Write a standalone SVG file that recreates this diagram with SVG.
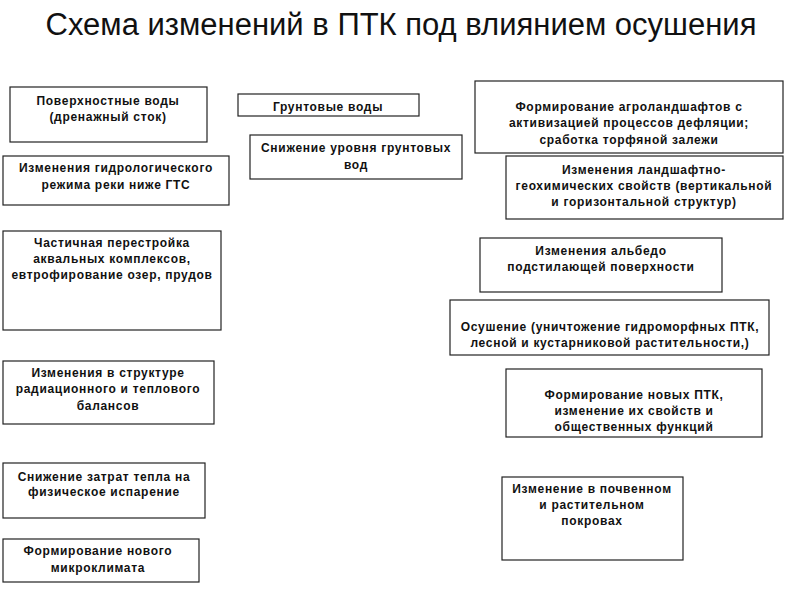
<svg xmlns="http://www.w3.org/2000/svg" width="800" height="600" viewBox="0 0 800 600">
<style>
.box{fill:#fff;stroke:#222;stroke-width:1.2}
.t{font-family:"Liberation Sans",Arial,sans-serif;font-size:12px;font-weight:bold;fill:#111;text-anchor:middle;letter-spacing:0.7px}
.title{font-family:"Liberation Sans",Arial,sans-serif;font-size:31px;fill:#111;text-anchor:middle}
</style>
<rect width="800" height="600" fill="#fff"/>
<text class="title" x="401" y="35">Схема изменений в ПТК под влиянием осушения</text>
<g id="connectors"/>
<g id="n1"><rect class="box" x="10" y="87" width="197" height="55"/><text class="t" x="108" y="105">Поверхностные воды</text><text class="t" x="108" y="121">(дренажный сток)</text></g>
<g id="n2"><rect class="box" x="3" y="156" width="226" height="49"/><text class="t" x="116" y="172">Изменения гидрологического</text><text class="t" x="116" y="189">режима реки ниже ГТС</text></g>
<g id="n3"><rect class="box" x="3" y="231" width="218" height="99"/><text class="t" x="112" y="247">Частичная перестройка</text><text class="t" x="112" y="263">аквальных комплексов,</text><text class="t" x="112" y="279">евтрофирование озер, прудов</text></g>
<g id="n4"><rect class="box" x="3" y="361" width="211" height="63"/><text class="t" x="108" y="377">Изменения в структуре</text><text class="t" x="108" y="393">радиационного и теплового</text><text class="t" x="108" y="410">балансов</text></g>
<g id="n5"><rect class="box" x="3" y="463" width="202" height="55"/><text class="t" x="104" y="481">Снижение затрат тепла на</text><text class="t" x="104" y="496">физическое испарение</text></g>
<g id="n6"><rect class="box" x="3" y="539" width="196" height="43"/><text class="t" x="98" y="555">Формирование нового</text><text class="t" x="98" y="572">микроклимата</text></g>
<g id="n7"><rect class="box" x="238" y="94" width="181" height="22"/><text class="t" x="328" y="111">Грунтовые воды</text></g>
<g id="n8"><rect class="box" x="250" y="135" width="212" height="44"/><text class="t" x="356" y="152">Снижение уровня грунтовых</text><text class="t" x="356" y="169">вод</text></g>
<g id="n9"><rect class="box" x="475" y="81" width="308" height="72"/><text class="t" x="629" y="111">Формирование агроландшафтов с</text><text class="t" x="629" y="127">активизацией процессов дефляции;</text><text class="t" x="629" y="144">сработка торфяной залежи</text></g>
<g id="n10"><rect class="box" x="506" y="156" width="277" height="63"/><text class="t" x="644" y="174">Изменения ландшафтно-</text><text class="t" x="644" y="190">геохимических свойств (вертикальной</text><text class="t" x="644" y="206">и горизонтальной структур)</text></g>
<g id="n11"><rect class="box" x="480" y="238" width="242" height="54"/><text class="t" x="601" y="255">Изменения альбедо</text><text class="t" x="601" y="271">подстилающей поверхности</text></g>
<g id="n12"><rect class="box" x="450" y="300" width="319" height="55"/><text class="t" x="610" y="331">Осушение (уничтожение гидроморфных ПТК,</text><text class="t" x="610" y="347">лесной и кустарниковой  растительности,)</text></g>
<g id="n13"><rect class="box" x="506" y="369" width="256" height="68"/><text class="t" x="634" y="399">Формирование новых ПТК,</text><text class="t" x="634" y="415">изменение их свойств и</text><text class="t" x="634" y="431">общественных функций</text></g>
<g id="n14"><rect class="box" x="502" y="477" width="181" height="83"/><text class="t" x="592" y="493">Изменение в почвенном</text><text class="t" x="592" y="509">и растительном</text><text class="t" x="592" y="525">покровах</text></g>
</svg>
